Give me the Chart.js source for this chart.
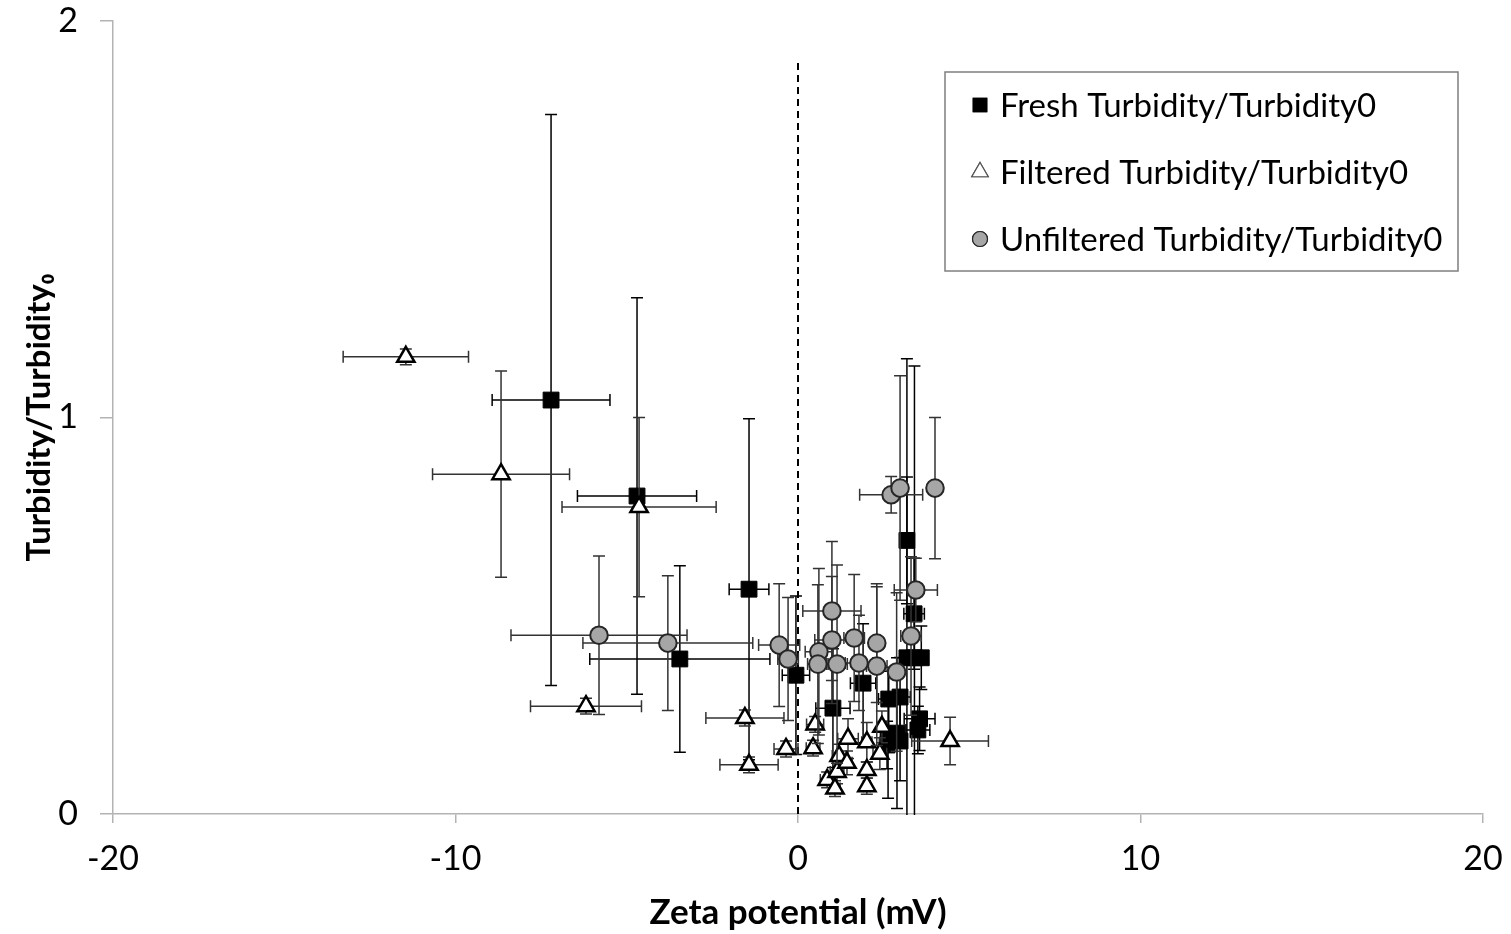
<!DOCTYPE html>
<html>
<head>
<meta charset="utf-8">
<script src="https://cdn.jsdelivr.net/npm/chart.js@4.4.1/dist/chart.umd.min.js"></script>
<style>
  html, body { margin: 0; padding: 0; background: #ffffff; }
  #wrap { width: 1511px; height: 934px; }
</style>
</head>
<body>
<div id="wrap"><canvas id="graph"></canvas></div>
<script>
// Series values: zeta potential (mV), turbidity ratio and their error bars
var freshX = [-7.21, -4.70, -3.45, -1.43, -0.06, 1.02, 1.90, 2.65, 2.98, 3.18, 3.39, 3.18, 3.40, 3.60, 3.55, 3.50, 2.60, 2.63, 2.89, 2.98];
var freshY = [1.044, 0.802, 0.391, 0.567, 0.350, 0.267, 0.330, 0.290, 0.295, 0.690, 0.505, 0.394, 0.394, 0.394, 0.240, 0.212, 0.174, 0.200, 0.204, 0.184];
var freshXErr = [1.72, 1.74, 2.63, 0.58, 0.40, 0.50, 0.37, 0.30, 0.30, 0.15, 0.30, 0.20, 0.20, 0.20, 0.45, 0.35, 0.20, 0.20, 0.20, 0.20];
var freshYErr = [0.72, 0.50, 0.235, 0.43, 0.20, 0.15, 0.15, 0.08, 0.10, 0.16, 0.14, 0.754, 0.736, 0.08, 0.08, 0.06, 0.06, 0.16, 0.19, 0.10];

var filteredX = [-11.45, -8.67, -4.64, -6.19, -1.55, -1.43, -0.35, 0.44, 0.50, 0.85, 1.08, 1.14, 1.20, 1.43, 1.46, 2.01, 2.01, 2.01, 2.39, 2.45, 4.44];
var filteredY = [1.153, 0.857, 0.774, 0.272, 0.242, 0.124, 0.164, 0.166, 0.226, 0.086, 0.064, 0.106, 0.146, 0.129, 0.190, 0.181, 0.111, 0.070, 0.152, 0.220, 0.184];
var filteredXErr = [1.83, 2.00, 2.25, 1.62, 1.14, 0.85, 0.35, 0.20, 0.25, 0.20, 0.15, 0.20, 0.20, 0.15, 0.30, 0.15, 0.10, 0.10, 0.20, 0.15, 1.12];
var filteredYErr = [0.02, 0.26, 0.226, 0.02, 0.02, 0.02, 0.02, 0.02, 0.02, 0.02, 0.02, 0.03, 0.03, 0.03, 0.05, 0.05, 0.02, 0.02, 0.04, 0.04, 0.06];

var unfilteredX = [-5.81, -3.80, -0.55, -0.29, 0.61, 0.58, 0.99, 0.99, 1.14, 1.64, 1.78, 2.30, 2.30, 2.88, 3.30, 3.44, 2.72, 2.98, 4.00];
var unfilteredY = [0.451, 0.431, 0.426, 0.391, 0.409, 0.378, 0.512, 0.439, 0.378, 0.444, 0.381, 0.431, 0.373, 0.358, 0.449, 0.565, 0.805, 0.822, 0.822];
var unfilteredXErr = [2.57, 2.48, 0.60, 0.30, 0.40, 0.30, 0.85, 0.50, 0.30, 0.30, 0.40, 0.20, 0.30, 0.20, 0.30, 0.63, 0.92, 0.15, 0.10];
var unfilteredYErr = [0.20, 0.17, 0.155, 0.155, 0.21, 0.20, 0.175, 0.16, 0.25, 0.16, 0.12, 0.15, 0.20, 0.20, 0.20, 0.08, 0.046, 0.283, 0.178];

var seriesNames = ['Fresh Turbidity/Turbidity0', 'Filtered Turbidity/Turbidity0', 'Unfiltered Turbidity/Turbidity0'];
var zeroLineY = [0, 1.9];
var xTicks = [-20, -10, 0, 10, 20];
var yTicks = [0, 1, 2];

var fontName = 'Lato, "Open Sans", "DejaVu Sans", sans-serif';

function toPoints(xs, ys) {
  var pts = [];
  for (var i = 0; i < xs.length; i++) {
    pts.push({ x: xs[i], y: ys[i] });
  }
  return pts;
}

// draws each series' error bars just before its own markers
var errorBars = {
  id: 'errorBars',
  beforeDatasetDraw: function (chart, args) {
    var ds = chart.data.datasets[args.index];
    if (!ds.xErr) return;
    var xs = chart.scales.x, ys = chart.scales.y, area = chart.chartArea;
    var ctx = chart.ctx;
    var cap = 6;
    ctx.save();
    ctx.beginPath();
    ctx.rect(area.left, area.top, area.right - area.left, area.bottom - area.top + 1);
    ctx.clip();
    ctx.strokeStyle = ds.errColor;
    ctx.lineWidth = 1.5;
    for (var i = 0; i < ds.data.length; i++) {
      var p = ds.data[i];
      var px = xs.getPixelForValue(p.x), py = ys.getPixelForValue(p.y);
      var x1 = xs.getPixelForValue(p.x - ds.xErr[i]), x2 = xs.getPixelForValue(p.x + ds.xErr[i]);
      var y1 = ys.getPixelForValue(p.y - ds.yErr[i]), y2 = ys.getPixelForValue(p.y + ds.yErr[i]);
      ctx.beginPath();
      ctx.moveTo(x1, py); ctx.lineTo(x2, py);
      ctx.moveTo(x1, py - cap); ctx.lineTo(x1, py + cap);
      ctx.moveTo(x2, py - cap); ctx.lineTo(x2, py + cap);
      ctx.moveTo(px, y1); ctx.lineTo(px, y2);
      ctx.moveTo(px - cap, y1); ctx.lineTo(px + cap, y1);
      ctx.moveTo(px - cap, y2); ctx.lineTo(px + cap, y2);
      ctx.stroke();
    }
    ctx.restore();
  }
};

// boxed legend in the upper right of the plot
var boxLegend = {
  id: 'boxLegend',
  afterDraw: function (chart) {
    var ctx = chart.ctx, area = chart.chartArea;
    var left = area.right - 538, top = 72, w = 513, h = 199;
    ctx.save();
    ctx.fillStyle = '#ffffff';
    ctx.fillRect(left, top, w, h);
    ctx.strokeStyle = '#7f7f7f';
    ctx.lineWidth = 1.5;
    ctx.strokeRect(left, top, w, h);
    ctx.font = '33px ' + fontName;
    ctx.textBaseline = 'middle';
    for (var i = 0; i < 3; i++) {
      var ds = chart.data.datasets[i];
      var cy = top + 33 + i * 67, cx = left + 35;
      ctx.lineWidth = 1.2;
      ctx.fillStyle = ds.backgroundColor;
      ctx.strokeStyle = i === 1 ? '#555555' : ds.borderColor;
      Chart.helpers.drawPoint(ctx, { pointStyle: ds.pointStyle, radius: i === 2 ? 7.5 : 9.5, borderWidth: 1.2 }, cx, cy);
      ctx.fill();
      ctx.stroke();
      ctx.fillStyle = '#000000';
      ctx.fillText(seriesNames[i], left + 55, cy + 1);
    }
    ctx.restore();
  }
};

var chart = new Chart(document.getElementById('graph').getContext('2d'), {
  type: 'scatter',
  data: {
    datasets: [
      {
        label: seriesNames[0],
        data: toPoints(freshX, freshY),
        xErr: freshXErr, yErr: freshYErr, errColor: '#000000',
        pointStyle: 'rect', pointRadius: 11.2, borderWidth: 1,
        backgroundColor: '#000000', borderColor: '#000000',
        order: 3
      },
      {
        label: seriesNames[1],
        data: toPoints(filteredX, filteredY),
        xErr: filteredXErr, yErr: filteredYErr, errColor: '#333333',
        pointStyle: 'triangle', pointRadius: 10, borderWidth: 2.5,
        backgroundColor: '#ffffff', borderColor: '#000000',
        order: 2
      },
      {
        label: seriesNames[2],
        data: toPoints(unfilteredX, unfilteredY),
        xErr: unfilteredXErr, yErr: unfilteredYErr, errColor: '#333333',
        pointStyle: 'circle', pointRadius: 8.8, borderWidth: 2,
        backgroundColor: '#a6a6a6', borderColor: '#262626',
        order: 1
      },
      {
        type: 'line',
        label: 'zero',
        data: toPoints([0, 0], zeroLineY),
        borderColor: '#000000', borderWidth: 2, borderDash: [7, 5],
        pointRadius: 0, showLine: true, fill: false,
        order: 4
      }
    ]
  },
  options: {
    responsive: true,
    maintainAspectRatio: false,
    animation: false,
    layout: { padding: { top: 21, right: 28, left: 0, bottom: 0 } },
    plugins: {
      legend: { display: false },
      tooltip: { enabled: false }
    },
    scales: {
      x: {
        type: 'linear', min: -20, max: 20,
        afterBuildTicks: function (axis) { axis.ticks = xTicks.map(function (v) { return { value: v }; }); },
        grid: { drawOnChartArea: false, color: '#b3b3b3', tickLength: 9, lineWidth: 1.5 },
        border: { color: '#b3b3b3', width: 1.5 },
        ticks: { color: '#000000', font: { family: fontName, size: 34 }, padding: 16, maxRotation: 0 },
        title: { display: true, text: 'Zeta potential (mV)', color: '#000000', font: { family: fontName, size: 35, weight: 'bold' }, padding: { top: 4, bottom: 0 } },
        afterFit: function (axis) {
          axis.height = 120;
          axis.paddingLeft = 0;
          axis.paddingRight = 0;
        }
      },
      y: {
        type: 'linear', min: 0, max: 2,
        afterBuildTicks: function (axis) { axis.ticks = yTicks.map(function (v) { return { value: v }; }); },
        grid: { drawOnChartArea: false, color: '#b3b3b3', tickLength: 13, lineWidth: 1.5 },
        border: { color: '#b3b3b3', width: 1.5 },
        ticks: { color: '#000000', font: { family: fontName, size: 34 }, padding: 22 },
        title: { display: true, text: 'Turbidity/Turbidity\u2080', color: '#000000', font: { family: fontName, size: 33, weight: 'bold' }, padding: { top: 20, bottom: 4 } },
        afterFit: function (axis) {
          axis.width = 113;
          axis.paddingTop = 0;
          axis.paddingBottom = 0;
        }
      }
    }
  },
  plugins: [errorBars, boxLegend]
});
</script>
</body>
</html>
